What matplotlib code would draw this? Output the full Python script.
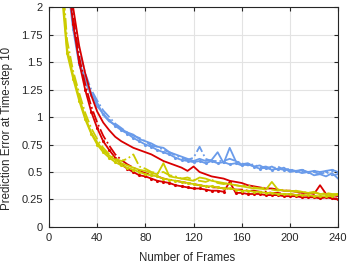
import matplotlib
matplotlib.use("Agg")
import matplotlib.pyplot as plt

frames = list(range(10, 241, 5))

blue_solid = [3.2, 2.3, 1.85, 1.5, 1.35, 1.22, 1.13, 1.02, 0.96, 0.93, 0.89, 0.86, 0.84, 0.8, 0.78, 0.76,
              0.73, 0.72, 0.68, 0.66, 0.64, 0.62, 0.6, 0.62, 0.6, 0.61, 0.68, 0.58, 0.72, 0.6, 0.57, 0.58,
              0.55, 0.56, 0.53, 0.55, 0.52, 0.54, 0.5, 0.51, 0.49, 0.5, 0.47, 0.48, 0.46, 0.49, 0.44]
blue_dashdot = [3.3, 2.4, 1.95, 1.62, 1.4, 1.25, 1.15, 1.06, 1.0, 0.94, 0.9, 0.86, 0.83, 0.81, 0.78, 0.74,
                0.73, 0.7, 0.68, 0.65, 0.63, 0.61, 0.63, 0.73, 0.62, 0.6, 0.6, 0.6, 0.62, 0.6, 0.58, 0.56,
                0.57, 0.54, 0.55, 0.53, 0.55, 0.52, 0.53, 0.5, 0.52, 0.49, 0.5, 0.48, 0.5, 0.47, 0.48]
blue_dots = [3.1, 2.25, 1.8, 1.48, 1.32, 1.2, 1.1, 1.03, 0.97, 0.92, 0.88, 0.85, 0.81, 0.78, 0.75, 0.73,
             0.7, 0.68, 0.66, 0.63, 0.61, 0.6, 0.59, 0.6, 0.58, 0.6, 0.58, 0.59, 0.57, 0.58, 0.56, 0.57,
             0.55, 0.53, 0.54, 0.52, 0.53, 0.52, 0.52, 0.51, 0.52, 0.5, 0.51, 0.5, 0.51, 0.52, 0.5]

red_solid = [3.6, 2.5, 2.0, 1.65, 1.4, 1.2, 1.05, 0.95, 0.88, 0.82, 0.78, 0.75, 0.72, 0.7, 0.68, 0.66,
             0.63, 0.6, 0.58, 0.56, 0.54, 0.51, 0.55, 0.5, 0.48, 0.46, 0.45, 0.44, 0.42, 0.41, 0.4, 0.38,
             0.37, 0.36, 0.35, 0.35, 0.34, 0.33, 0.33, 0.32, 0.31, 0.31, 0.3, 0.38, 0.3, 0.29, 0.28]
red_dashdot = [3.4, 2.35, 1.9, 1.55, 1.3, 1.1, 0.95, 0.83, 0.74, 0.66, 0.61, 0.57, 0.54, 0.51, 0.49, 0.47,
               0.46, 0.44, 0.43, 0.42, 0.41, 0.4, 0.39, 0.38, 0.37, 0.36, 0.36, 0.35, 0.35, 0.34, 0.34, 0.33,
               0.33, 0.32, 0.32, 0.31, 0.31, 0.3, 0.3, 0.29, 0.3, 0.28, 0.28, 0.27, 0.28, 0.26, 0.26]
red_dots = [3.3, 2.3, 1.85, 1.5, 1.25, 1.05, 0.9, 0.78, 0.7, 0.63, 0.57, 0.53, 0.5, 0.47, 0.46, 0.44,
            0.42, 0.41, 0.4, 0.38, 0.37, 0.36, 0.35, 0.35, 0.34, 0.33, 0.33, 0.32, 0.41, 0.31, 0.31, 0.3,
            0.3, 0.3, 0.29, 0.29, 0.29, 0.28, 0.28, 0.28, 0.27, 0.27, 0.27, 0.26, 0.27, 0.26, 0.25]

yellow_solid = [2.3, 1.62, 1.38, 1.18, 1.0, 0.86, 0.77, 0.7, 0.65, 0.61, 0.58, 0.56, 0.54, 0.52, 0.51, 0.49,
                0.48, 0.58, 0.46, 0.45, 0.44, 0.43, 0.42, 0.45, 0.44, 0.42, 0.41, 0.4, 0.39, 0.38, 0.37, 0.36,
                0.35, 0.35, 0.34, 0.41, 0.34, 0.33, 0.33, 0.32, 0.32, 0.31, 0.31, 0.3, 0.3, 0.29, 0.29]
yellow_dashdot = [2.45, 1.7, 1.42, 1.22, 1.04, 0.9, 0.8, 0.72, 0.66, 0.62, 0.6, 0.62, 0.66, 0.55, 0.53, 0.5,
                  0.49, 0.5, 0.47, 0.46, 0.44, 0.45, 0.43, 0.42, 0.41, 0.43, 0.4, 0.39, 0.4, 0.38, 0.37, 0.38,
                  0.36, 0.35, 0.36, 0.34, 0.33, 0.34, 0.32, 0.33, 0.32, 0.31, 0.32, 0.3, 0.31, 0.3, 0.3]
yellow_dots = [2.2, 1.58, 1.35, 1.15, 0.98, 0.85, 0.75, 0.68, 0.63, 0.59, 0.56, 0.54, 0.52, 0.5, 0.48, 0.47,
               0.46, 0.44, 0.43, 0.42, 0.41, 0.4, 0.39, 0.38, 0.37, 0.37, 0.36, 0.35, 0.35, 0.34, 0.33, 0.33,
               0.32, 0.32, 0.31, 0.31, 0.3, 0.3, 0.3, 0.29, 0.29, 0.29, 0.28, 0.28, 0.28, 0.28, 0.3]

x_ticks = [0, 40, 80, 120, 160, 200, 240]
y_ticks = [0, 0.25, 0.5, 0.75, 1, 1.25, 1.5, 1.75, 2]
y_ticklabels = ["0", "0.25", "0.5", "0.75", "1", "1.25", "1.5", "1.75", "2"]

BLUE = "#6a9bea"
RED = "#d90000"
YELLOW = "#cccc00"

plt.rcParams['font.family'] = ['Liberation Sans', 'DejaVu Sans']
fig = plt.figure(figsize=(3.5, 2.63), dpi=100)
ax = fig.add_axes([0.14, 0.137, 0.826, 0.836])

lw = 1.3
series = [
    (blue_solid, BLUE, '-', None), (blue_dashdot, BLUE, '-.', None), (blue_dots, BLUE, '-', '.'),
    (red_solid, RED, '-', None), (red_dashdot, RED, '-.', None), (red_dots, RED, '-', '.'),
    (yellow_solid, YELLOW, '-', None), (yellow_dashdot, YELLOW, '-.', None), (yellow_dots, YELLOW, '-', '.'),
]
for vals, c, ls, mk in series:
    ax.plot(frames, vals, color=c, ls=ls, lw=lw, marker=mk, ms=2.5)

ax.set_xlim(0, 240)
ax.set_ylim(0, 2)
ax.set_xticks(x_ticks)
ax.set_yticks(y_ticks)
ax.set_yticklabels(y_ticklabels)
ax.grid(True, color="#e3e3e3", lw=0.8)
ax.set_axisbelow(True)
ax.tick_params(direction='in', length=3, width=0.8, top=True, right=True,
               labelsize=8, colors="#262626", pad=4.5)
for s in ax.spines.values():
    s.set_color("#262626")
    s.set_linewidth(0.8)
ax.set_xlabel("Number of Frames", fontsize=8.3, color="#262626", va='center')
ax.set_ylabel("Prediction Error at Time-step 10", fontsize=8.3, color="#262626", va='center', ha='center')
ax.xaxis.set_label_coords(0.479, -0.141)
ax.yaxis.set_label_coords(-0.145, 0.45)

fig.savefig("out.png", dpi=100)
